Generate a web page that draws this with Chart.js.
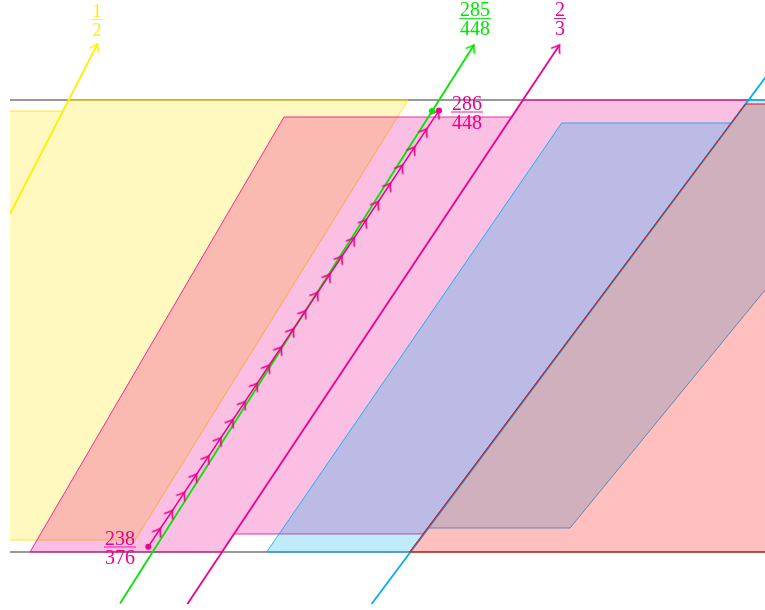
<!DOCTYPE html>
<html>
<head>
<meta charset="utf-8">
<script src="https://cdn.jsdelivr.net/npm/chart.js@4.4.1/dist/chart.umd.min.js"></script>
<style>
  html, body { margin: 0; padding: 0; background: #fff; }
  #wrap { width: 765px; height: 610px; }
</style>
</head>
<body>
<div id="wrap"><canvas id="c"></canvas></div>
<script>
// -- DIAGRAM DATA (x to the right, y downwards) -- //
const stripX = [10, 765]
const stripTopY = [100, 100]
const stripBottomY = [552, 552]

// filled regions, each split by its own slope line
const yellowX = [5, 62.9, 68.5, 408, 135, 5, 5]
const yellowY = [111, 111, 100, 100, 540, 540, 111]

const pinkX = [30, 284, 512, 523, 748.5, 423, 234, 222, 30]
const pinkY = [552, 117, 117, 100, 100, 534, 534, 552, 552]

const blueX = [266.7, 561.7, 731.3, 748.5, 767, 767, 570, 428.4, 410.5, 266.7]
const blueY = [552, 123, 123, 100, 100, 287.7, 528, 528, 552, 552]

const redX = [409.5, 745.5, 767, 767, 409.5]
const redY = [552, 104, 104, 552, 552]

// slope lines
const halfX = [10, 97.5]
const halfY = [214, 44]
const greenX = [120, 474]
const greenY = [603.5, 45]
const twoThirdsX = [187.4, 559.5]
const twoThirdsY = [604, 45]
const cyanX = [371.6, 823.3]
const cyanY = [604, 0]

// mediant walk 238/376 -> 286/448 (24 steps)
const walkX = [148.3, 160.4, 172.5, 184.6, 196.7, 208.9, 221.0, 233.1, 245.2, 257.3, 269.4, 281.5, 293.6,
  305.7, 317.8, 330.0, 342.1, 354.2, 366.3, 378.4, 390.5, 402.6, 414.7, 426.8, 439.0]
const walkY = [546.7, 528.5, 510.4, 492.2, 474.0, 455.9, 437.7, 419.5, 401.4, 383.2, 365.0, 346.8, 328.7,
  310.5, 292.3, 274.2, 256.0, 237.8, 219.6, 201.5, 183.3, 165.1, 147.0, 128.8, 110.6]

const greenDotX = [432]
const greenDotY = [111]

// fraction labels
const fracNum = ['1', '285', '2', '286', '238']
const fracDen = ['2', '448', '3', '448', '376']
const fracX = [97, 475, 560, 467, 120]
const fracY = [19.5, 18.5, 18.5, 112, 547]

// -- STYLES -- //
const YELLOW = '#fff000'
const GREEN = '#00e600'
const MAGENTA = '#ec008c'
const CYAN = '#00aeef'
const fracColor = [YELLOW, GREEN, MAGENTA, MAGENTA, MAGENTA]
const fracSize = [18, 20, 20, 20, 20]

const pts = (xs, ys) => xs.map((x, i) => ({ x, y: ys[i] }))

function makeArrow(color) {
  const c = document.createElement('canvas')
  c.width = 24
  c.height = 24
  const g = c.getContext('2d')
  g.strokeStyle = color
  g.lineWidth = 1.5
  g.lineCap = 'round'
  g.beginPath()
  g.moveTo(12 - 7, 12 - 4.8)
  g.quadraticCurveTo(12 - 2.5, 12 - 1.2, 12, 12)
  g.quadraticCurveTo(12 - 2.5, 12 + 1.2, 12 - 7, 12 + 4.8)
  g.stroke()
  return c
}

// direction of the segment ending at this point, in screen degrees
function arrowAngle(c) {
  const d = c.dataset.data
  const i = Math.max(c.dataIndex, 1)
  const a = d[i - 1], b = d[i]
  const xs = c.chart.scales.x, ys = c.chart.scales.y
  const dx = xs.getPixelForValue(b.x) - xs.getPixelForValue(a.x)
  const dy = ys.getPixelForValue(b.y) - ys.getPixelForValue(a.y)
  return Math.atan2(dy, dx) * 180 / Math.PI
}

function shape(xs, ys, fillColor, lineColor) {
  return {
    data: pts(xs, ys), showLine: true, fill: 'shape', clip: 0,
    backgroundColor: fillColor, borderColor: lineColor, borderWidth: 1, pointRadius: 0
  }
}

function slope(xs, ys, color, withArrow) {
  const arrow = makeArrow(color)
  return {
    data: pts(xs, ys), showLine: true, fill: false,
    borderColor: color, borderWidth: 1.8,
    pointStyle: arrow, rotation: arrowAngle,
    pointRadius: c => (withArrow && c.dataIndex === xs.length - 1) ? 6 : 0
  }
}

const layers = [
  { data: pts(stripX, stripTopY), showLine: true, fill: false, borderColor: '#333', borderWidth: 1.2, pointRadius: 0 },
  { data: pts(stripX, stripBottomY), showLine: true, fill: false, borderColor: '#333', borderWidth: 1.2, pointRadius: 0 },
  shape(yellowX, yellowY, 'rgba(255,230,0,0.25)', 'rgba(255,222,0,0.8)'),
  shape(pinkX, pinkY, 'rgba(236,0,140,0.25)', 'rgba(236,0,140,0.8)'),
  shape(blueX, blueY, 'rgba(0,174,239,0.25)', 'rgba(0,174,239,0.85)'),
  slope(cyanX, cyanY, CYAN, false),
  shape(redX, redY, 'rgba(255,0,0,0.25)', 'rgba(235,0,0,0.9)'),
  slope(halfX, halfY, YELLOW, true),
  slope(greenX, greenY, GREEN, true),
  slope(twoThirdsX, twoThirdsY, MAGENTA, true),
  {
    data: pts(walkX, walkY), showLine: true, fill: false,
    borderColor: MAGENTA, borderWidth: 1.5,
    pointStyle: makeArrow(MAGENTA), rotation: arrowAngle,
    pointRadius: c => c.dataIndex > 0 ? 6 : 0
  },
  {
    data: pts([walkX[0], walkX[walkX.length - 1]], [walkY[0], walkY[walkY.length - 1]]),
    pointStyle: 'circle', pointRadius: 3, pointBackgroundColor: MAGENTA, pointBorderWidth: 0
  },
  {
    data: pts(greenDotX, greenDotY),
    pointStyle: 'circle', pointRadius: 3, pointBackgroundColor: GREEN, pointBorderWidth: 0
  }
]
// first layer is drawn first
layers.forEach((ds, i) => { ds.order = layers.length - i })

const fractionLabels = {
  id: 'fractionLabels',
  afterDatasetsDraw(chart) {
    const { ctx, scales: { x, y } } = chart
    ctx.save()
    ctx.textAlign = 'center'
    ctx.textBaseline = 'alphabetic'
    fracNum.forEach((num, i) => {
      const px = x.getPixelForValue(fracX[i])
      const py = y.getPixelForValue(fracY[i])
      ctx.font = fracSize[i] + 'px "Liberation Serif", "DejaVu Serif", serif'
      const w = Math.max(ctx.measureText(num).width, ctx.measureText(fracDen[i]).width) + 2
      ctx.fillStyle = fracColor[i]
      ctx.strokeStyle = fracColor[i]
      ctx.fillText(num, px, py - 2.5)
      ctx.fillText(fracDen[i], px, py + 16.5)
      ctx.lineWidth = 0.9
      ctx.beginPath()
      ctx.moveTo(px - w / 2, py)
      ctx.lineTo(px + w / 2, py)
      ctx.stroke()
    })
    ctx.restore()
  }
}

new Chart(document.getElementById('c'), {
  type: 'scatter',
  data: { datasets: layers },
  options: {
    responsive: true,
    maintainAspectRatio: false,
    devicePixelRatio: 1,
    animation: false,
    layout: { autoPadding: false, padding: { left: 10, right: 0, top: 0, bottom: 0 } },
    scales: {
      x: { type: 'linear', min: 10, max: 765, display: false },
      y: { type: 'linear', min: 0, max: 610, reverse: true, display: false }
    },
    plugins: { legend: { display: false }, tooltip: { enabled: false } }
  },
  plugins: [fractionLabels]
})
</script>
</body>
</html>
